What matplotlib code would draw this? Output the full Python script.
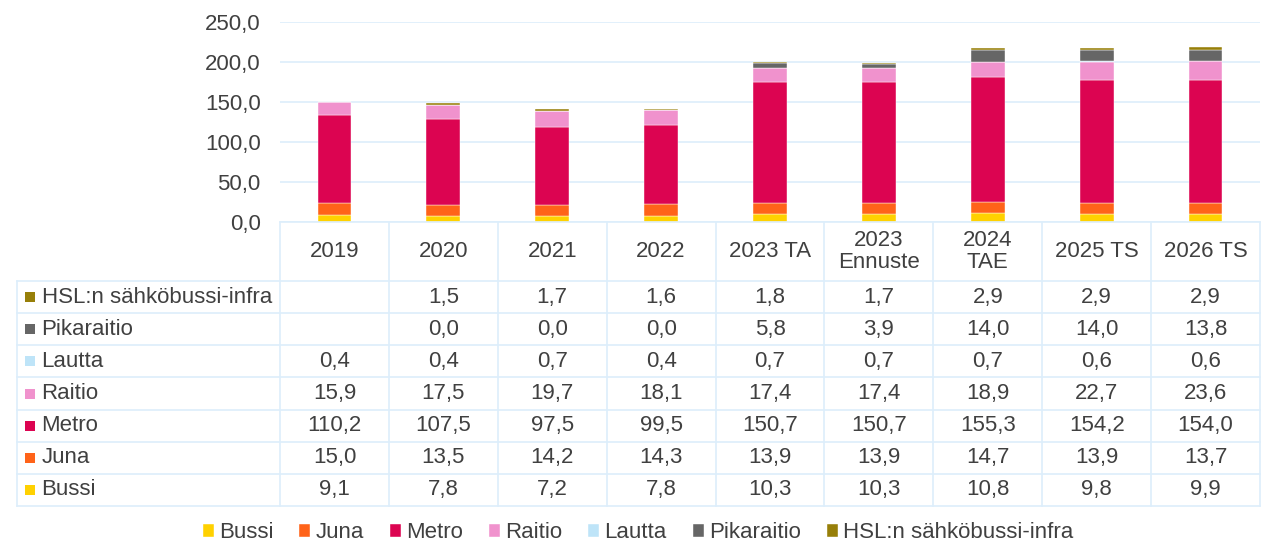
import numpy as np
from matplotlib import pyplot as plt

plt.rcParams['font.family'] = ['Liberation Sans', 'DejaVu Sans']

years = ["2019", "2020", "2021", "2022", "2023 TA", "2023\nEnnuste", "2024\nTAE", "2025 TS", "2026 TS"]
series_names = ["Bussi", "Juna", "Metro", "Raitio", "Lautta", "Pikaraitio", "HSL:n sähköbussi-infra"]
bussi = [9.1, 7.8, 7.2, 7.8, 10.3, 10.3, 10.8, 9.8, 9.9]
juna = [15.0, 13.5, 14.2, 14.3, 13.9, 13.9, 14.7, 13.9, 13.7]
metro = [110.2, 107.5, 97.5, 99.5, 150.7, 150.7, 155.3, 154.2, 154.0]
raitio = [15.9, 17.5, 19.7, 18.1, 17.4, 17.4, 18.9, 22.7, 23.6]
lautta = [0.4, 0.4, 0.7, 0.4, 0.7, 0.7, 0.7, 0.6, 0.6]
pikaraitio = [None, 0.0, 0.0, 0.0, 5.8, 3.9, 14.0, 14.0, 13.8]
hsl_infra = [None, 1.5, 1.7, 1.6, 1.8, 1.7, 2.9, 2.9, 2.9]
yticks = [0, 50, 100, 150, 200, 250]

series = [bussi, juna, metro, raitio, lautta, pikaraitio, hsl_infra]
colors = ["#FFD100", "#FF6319", "#DC0451", "#F092CD", "#BEE4F8", "#666666", "#977F09"]
grid_c = "#DDEEFB"
txt_c = "#404040"
fs = 16

W, H = 1261, 547
fig = plt.figure(figsize=(W / 100, H / 100), dpi=100)

# bar area
ax = fig.add_axes([280 / W, 1 - 222 / H, 980 / W, 200 / H])
x = np.arange(len(years))
bottom = np.zeros(len(years))
handles = []
for name, vals, c in zip(series_names, series, colors):
    v = np.array([0.0 if a is None else a for a in vals])
    b = ax.bar(x, v, 0.31, bottom=bottom, color=c, label=name, zorder=3,
               edgecolor="white", linewidth=0.3)
    handles.append(b)
    bottom += v
ax.set_xlim(-0.5, len(years) - 0.5)
ax.set_ylim(0, 250)
ax.set_yticks(yticks)
ax.set_yticklabels([f"{t:.1f}".replace(".", ",") for t in yticks], fontsize=fs, color=txt_c)
ax.tick_params(axis='y', length=0, pad=14)
ax.set_xticks([])
for s in ax.spines.values():
    s.set_visible(False)
ax.grid(axis='y', color=grid_c, linewidth=1.2, zorder=0)

# data table
left_px = 17
col_w = 980 / len(years)
row_h = (506 - 281) / 7
hdr = (281 - 222) / row_h
x0 = -0.5 - (280 - left_px) / col_w
tab = fig.add_axes([left_px / W, 1 - 506 / H, (1260 - left_px) / W, (506 - 222) / H])
tab.set_xlim(x0, len(years) - 0.5)
tab.set_ylim(0, 7 + hdr)
tab.axis('off')
nrow = len(series_names)
for k in range(nrow + 1):
    tab.plot([x0, len(years) - 0.5], [k, k], color=grid_c, lw=1.2, clip_on=False)
tab.plot([-0.5, len(years) - 0.5], [7 + hdr, 7 + hdr], color=grid_c, lw=1.2, clip_on=False)
tab.plot([x0, x0], [0, 7], color=grid_c, lw=1.2, clip_on=False)
for i in range(len(years) + 1):
    tab.plot([i - 0.5, i - 0.5], [0, 7 + hdr], color=grid_c, lw=1.2, clip_on=False)

for i, yr in enumerate(years):
    tab.text(i, 7 + hdr / 2, yr, ha='center', va='center', fontsize=fs, color=txt_c, linespacing=1.0)

for j, (name, vals, c) in enumerate(zip(series_names, series, colors)):
    yc = j + 0.5
    tab.scatter([x0 + 0.12], [yc], marker='s', s=52, color=c, clip_on=False, linewidths=0)
    tab.text(x0 + 0.225, yc, name, ha='left', va='center', fontsize=fs, color=txt_c)
    for i, v in enumerate(vals):
        if v is not None:
            tab.text(i, yc, f"{v:.1f}".replace(".", ","), ha='center', va='center',
                     fontsize=fs, color=txt_c)

fig.legend(handles=handles, loc='center', bbox_to_anchor=(638 / W, 1 - 533 / H), ncol=7,
           frameon=False, fontsize=fs, handlelength=0.5, handleheight=0.55,
           handletextpad=0.23, columnspacing=1.17, labelcolor=txt_c, borderpad=0)

fig.savefig("out.png", dpi=100)
